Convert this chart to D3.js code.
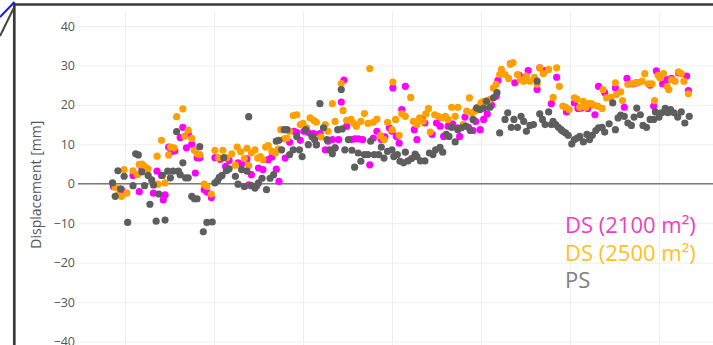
<!DOCTYPE html>
<html><head><meta charset="utf-8">
<script src="https://cdn.jsdelivr.net/npm/d3@7"></script>
<style>
html,body{margin:0;padding:0;background:#fff;overflow:hidden;}
svg{display:block;}
</style></head>
<body><svg id="c" width="713" height="345"></svg>
<script>
const yTicks = [-40,-30,-20,-10,0,10,20,30,40];
const gridYears = [2015,2016,2017,2018,2019,2020,2021];
const seriesNames = ["DS (2100 m²)","DS (2500 m²)","PS"];

const ds2100Points = [[2014.87,-0.7],[2014.96,-1.5],[2015.09,2.1],[2015.16,-2.0],[2015.19,3.6],[2015.32,-2.4],[2015.36,3.2],[2015.41,2.1],[2015.43,-4.1],[2015.45,-2.8],[2015.49,9.3],[2015.52,8.1],[2015.56,8.3],[2015.62,11.7],[2015.65,14.3],[2015.69,9.1],[2015.71,12.7],[2015.75,10.0],[2015.79,2.7],[2015.81,6.6],[2015.84,6.6],[2015.89,-1.5],[2015.92,-2.1],[2015.97,-3.5],[2016.01,6.6],[2016.07,6.2],[2016.13,4.4],[2016.17,5.9],[2016.27,5.3],[2016.31,5.0],[2016.37,6.3],[2016.39,-0.3],[2016.42,2.3],[2016.48,-0.5],[2016.50,4.0],[2016.55,3.6],[2016.61,6.1],[2016.65,6.8],[2016.70,3.7],[2016.73,0.6],[2016.80,6.5],[2016.85,10.5],[2016.90,13.3],[2016.93,13.0],[2016.97,11.0],[2017.01,13.3],[2017.06,13.0],[2017.12,12.7],[2017.15,9.9],[2017.19,12.7],[2017.25,8.6],[2017.28,10.8],[2017.33,11.2],[2017.36,9.1],[2017.40,11.2],[2017.43,20.7],[2017.46,26.3],[2017.49,14.6],[2017.54,11.2],[2017.58,11.4],[2017.62,11.4],[2017.67,11.2],[2017.75,4.8],[2017.79,11.6],[2017.83,13.3],[2017.88,11.2],[2017.92,11.9],[2017.97,14.2],[2018.00,13.3],[2018.01,24.3],[2018.05,12.0],[2018.08,10.3],[2018.11,18.8],[2018.15,24.7],[2018.25,13.7],[2018.28,11.2],[2018.34,16.5],[2018.37,15.4],[2018.45,12.5],[2018.50,15.4],[2018.54,14.6],[2018.58,12.0],[2018.63,14.6],[2018.68,15.2],[2018.73,14.2],[2018.76,12.0],[2018.82,16.9],[2018.86,14.3],[2018.91,13.5],[2018.94,15.8],[2018.99,13.7],[2019.03,16.3],[2019.07,17.7],[2019.12,19.9],[2019.17,22.2],[2019.19,26.2],[2019.33,30.4],[2019.38,25.6],[2019.43,27.5],[2019.53,28.7],[2019.63,23.9],[2019.66,29.4],[2019.72,28.7],[2019.79,20.3],[2019.85,27.0],[2019.96,18.2],[2020.05,20.5],[2020.09,19.1],[2020.13,19.2],[2020.20,19.1],[2020.28,17.5],[2020.32,24.7],[2020.39,23.1],[2020.51,24.3],[2020.61,19.4],[2020.64,26.7],[2020.71,25.3],[2020.75,25.6],[2020.90,25.0],[2020.94,19.7],[2020.97,28.6],[2021.04,25.3],[2021.09,26.4],[2021.14,26.7],[2021.22,28.1],[2021.31,27.3],[2021.33,23.6]];

const ds2500Points = [[2014.89,-0.9],[2014.92,-2.8],[2014.96,-3.2],[2014.99,3.6],[2015.02,-2.4],[2015.09,3.3],[2015.14,2.3],[2015.16,4.9],[2015.19,5.0],[2015.22,4.4],[2015.26,3.8],[2015.30,0.8],[2015.36,7.0],[2015.37,-0.1],[2015.41,11.0],[2015.45,0.2],[2015.49,7.3],[2015.51,9.3],[2015.55,9.1],[2015.58,17.0],[2015.65,19.0],[2015.67,12.1],[2015.71,13.6],[2015.75,11.5],[2015.78,8.5],[2015.81,7.6],[2015.84,7.4],[2015.89,-0.1],[2015.92,-0.7],[2015.97,-2.6],[2016.01,8.5],[2016.05,6.6],[2016.10,8.5],[2016.14,6.6],[2016.20,7.6],[2016.24,4.7],[2016.26,9.3],[2016.30,8.1],[2016.34,6.4],[2016.37,9.0],[2016.39,4.6],[2016.42,7.8],[2016.46,8.6],[2016.49,6.5],[2016.52,6.9],[2016.55,6.1],[2016.58,9.3],[2016.61,9.7],[2016.65,8.2],[2016.69,7.8],[2016.72,8.8],[2016.75,13.7],[2016.79,11.4],[2016.82,11.6],[2016.85,13.3],[2016.89,17.3],[2016.93,17.5],[2016.97,15.0],[2017.00,15.3],[2017.04,14.2],[2017.08,16.7],[2017.12,16.1],[2017.15,15.6],[2017.20,11.9],[2017.25,15.0],[2017.28,13.3],[2017.33,20.3],[2017.36,15.8],[2017.43,25.4],[2017.45,18.6],[2017.49,16.1],[2017.54,16.3],[2017.57,15.3],[2017.60,14.6],[2017.65,15.8],[2017.69,17.8],[2017.73,15.3],[2017.75,29.2],[2017.79,15.6],[2017.83,16.4],[2017.87,12.2],[2017.91,11.2],[2017.95,15.6],[2018.00,13.7],[2018.01,25.8],[2018.04,16.3],[2018.08,12.3],[2018.11,17.7],[2018.15,17.1],[2018.21,21.9],[2018.24,15.8],[2018.28,15.0],[2018.31,16.7],[2018.35,15.8],[2018.38,17.7],[2018.41,19.1],[2018.43,13.1],[2018.48,17.5],[2018.52,17.1],[2018.56,16.7],[2018.60,17.1],[2018.63,16.3],[2018.67,19.4],[2018.71,17.1],[2018.74,19.4],[2018.80,15.0],[2018.84,18.4],[2018.87,21.8],[2018.90,18.0],[2018.93,18.4],[2018.96,19.4],[2019.00,20.5],[2019.03,20.9],[2019.07,21.1],[2019.10,21.4],[2019.14,24.3],[2019.17,25.2],[2019.21,27.7],[2019.23,29.0],[2019.27,27.7],[2019.31,26.7],[2019.33,30.3],[2019.36,30.7],[2019.41,27.7],[2019.44,26.4],[2019.48,26.0],[2019.51,27.3],[2019.55,26.0],[2019.60,27.0],[2019.63,25.2],[2019.66,29.4],[2019.70,27.9],[2019.76,29.0],[2019.81,21.9],[2019.85,29.4],[2019.88,24.7],[2019.92,19.7],[2019.95,19.4],[2019.99,18.8],[2020.05,21.8],[2020.08,21.4],[2020.11,19.4],[2020.15,20.9],[2020.18,19.4],[2020.21,20.3],[2020.24,20.3],[2020.27,19.9],[2020.31,19.7],[2020.36,19.1],[2020.37,23.9],[2020.41,21.8],[2020.46,21.9],[2020.51,25.6],[2020.52,22.6],[2020.57,23.3],[2020.59,21.1],[2020.65,25.2],[2020.69,25.3],[2020.73,25.6],[2020.77,25.6],[2020.81,26.0],[2020.84,27.9],[2020.88,25.3],[2020.92,25.3],[2020.95,21.1],[2020.99,27.5],[2021.01,26.9],[2021.05,27.9],[2021.09,24.7],[2021.11,23.9],[2021.14,26.4],[2021.18,26.0],[2021.22,28.4],[2021.25,27.9],[2021.28,26.0],[2021.33,22.8]];

const psPoints = [[2014.86,0.2],[2014.89,-3.2],[2014.92,3.3],[2014.95,-1.3],[2014.99,1.9],[2015.03,-9.8],[2015.09,-0.5],[2015.12,7.6],[2015.15,7.3],[2015.19,3.0],[2015.22,-0.5],[2015.26,2.1],[2015.28,-5.2],[2015.30,1.0],[2015.32,-0.3],[2015.35,-9.5],[2015.38,-2.6],[2015.42,2.1],[2015.45,-9.2],[2015.48,3.2],[2015.51,1.5],[2015.54,3.2],[2015.58,13.2],[2015.60,3.2],[2015.62,2.3],[2015.65,5.3],[2015.68,1.5],[2015.71,1.5],[2015.75,-3.2],[2015.78,-3.8],[2015.81,-3.8],[2015.84,9.4],[2015.88,-12.2],[2015.92,-9.8],[2015.98,-9.7],[2016.01,0.2],[2016.04,0.8],[2016.06,1.6],[2016.09,2.1],[2016.11,6.6],[2016.14,3.3],[2016.17,3.8],[2016.24,1.9],[2016.27,-0.1],[2016.31,3.6],[2016.34,-0.7],[2016.37,3.2],[2016.39,17.0],[2016.42,-0.5],[2016.46,-1.1],[2016.50,0.2],[2016.54,1.4],[2016.59,-1.5],[2016.63,1.4],[2016.67,2.3],[2016.70,10.8],[2016.73,11.0],[2016.76,8.6],[2016.79,13.7],[2016.82,13.7],[2016.85,7.4],[2016.89,8.6],[2016.93,12.0],[2016.96,8.6],[2016.99,6.9],[2017.03,13.7],[2017.06,9.9],[2017.10,12.0],[2017.13,11.2],[2017.15,9.9],[2017.19,20.3],[2017.23,14.2],[2017.27,11.2],[2017.30,8.6],[2017.33,7.6],[2017.36,9.1],[2017.39,13.7],[2017.43,23.9],[2017.44,13.9],[2017.47,8.6],[2017.51,11.2],[2017.55,8.5],[2017.58,4.2],[2017.62,7.8],[2017.65,5.7],[2017.69,7.4],[2017.73,7.4],[2017.76,10.8],[2017.80,7.4],[2017.85,7.4],[2017.88,9.3],[2017.91,6.5],[2017.95,8.2],[2018.00,8.6],[2018.02,6.9],[2018.06,7.4],[2018.09,5.7],[2018.13,5.3],[2018.15,8.0],[2018.18,5.8],[2018.22,6.4],[2018.26,7.5],[2018.28,6.9],[2018.32,5.8],[2018.37,5.8],[2018.42,7.8],[2018.46,7.4],[2018.49,8.6],[2018.54,9.2],[2018.57,8.0],[2018.61,12.5],[2018.64,12.0],[2018.67,14.3],[2018.71,10.6],[2018.74,13.7],[2018.78,14.2],[2018.83,14.6],[2018.88,13.5],[2018.91,16.3],[2018.95,19.2],[2018.99,18.8],[2019.03,19.2],[2019.06,20.9],[2019.10,19.4],[2019.14,21.8],[2019.18,23.1],[2019.21,12.9],[2019.27,16.3],[2019.30,18.0],[2019.34,14.3],[2019.37,16.3],[2019.41,14.3],[2019.45,17.1],[2019.48,15.8],[2019.51,13.3],[2019.55,14.8],[2019.59,15.0],[2019.63,26.0],[2019.66,17.7],[2019.69,16.3],[2019.72,15.0],[2019.76,18.2],[2019.79,15.0],[2019.81,15.8],[2019.84,15.0],[2019.87,14.3],[2019.90,13.7],[2019.92,13.3],[2019.95,12.9],[2019.98,12.3],[2020.02,10.1],[2020.05,11.2],[2020.08,11.6],[2020.11,12.0],[2020.15,10.6],[2020.19,12.5],[2020.22,11.2],[2020.25,12.3],[2020.29,13.5],[2020.32,14.2],[2020.36,14.3],[2020.39,13.1],[2020.44,15.2],[2020.48,20.5],[2020.51,13.7],[2020.54,16.7],[2020.57,17.4],[2020.61,17.1],[2020.65,15.4],[2020.69,14.8],[2020.72,16.9],[2020.75,19.2],[2020.79,17.5],[2020.82,14.8],[2020.86,14.3],[2020.90,16.3],[2020.94,16.3],[2020.96,18.2],[2021.00,16.9],[2021.03,18.0],[2021.07,19.1],[2021.10,18.0],[2021.13,18.8],[2021.17,18.0],[2021.21,16.9],[2021.25,18.2],[2021.29,15.4],[2021.34,17.1]];

const W = 713, H = 345;
const plot = {left: 78, top: 12, right: 713, bottom: 345};
const svg = d3.select("#c");
const x = d3.scaleLinear().domain([2015, 2021]).range([125, 659]);
const y = d3.scaleLinear().domain([-40, 40]).range([341.5, 26]);
const font = "'Open Sans', 'Noto Sans', sans-serif";

svg.append("rect").attr("width", W).attr("height", H).attr("fill", "#fff");

// horizontal grid
const gy = svg.append("g").attr("transform", `translate(${plot.left},0)`)
  .call(d3.axisLeft(y).tickValues(yTicks).tickSize(-(plot.right - plot.left)).tickFormat(""));
gy.select(".domain").remove();
gy.selectAll("line").attr("stroke", "#eeeeee").attr("stroke-width", 1);

// vertical grid
const gx = svg.append("g").attr("transform", `translate(0,${plot.top})`)
  .call(d3.axisBottom(x).tickValues(gridYears).tickSize(plot.bottom - plot.top).tickFormat(""));
gx.select(".domain").remove();
gx.selectAll("line").attr("stroke", "#eeeeee").attr("stroke-width", 1);

// zero line
svg.append("line").attr("x1", plot.left).attr("x2", plot.right)
  .attr("y1", y(0)).attr("y2", y(0)).attr("stroke", "#7a7a7a").attr("stroke-width", 1.6);

// y tick labels
const yl = svg.append("g").attr("transform", `translate(${plot.left - 3},0)`)
  .call(d3.axisLeft(y).tickValues(yTicks).tickSize(0).tickPadding(0));
yl.select(".domain").remove();
yl.selectAll("text").attr("font-family", font).attr("font-size", 12.5).attr("fill", "#555");

// y title
svg.append("text").attr("transform", `translate(35,${(y(40) + y(-40)) / 2 + 1}) rotate(-90)`)
  .attr("text-anchor", "middle").attr("dominant-baseline", "central")
  .attr("font-family", font).attr("font-size", 14).attr("fill", "#555")
  .text("Displacement [mm]");

// points
svg.append("clipPath").attr("id", "clip").append("rect")
  .attr("x", plot.left).attr("y", plot.top)
  .attr("width", plot.right - plot.left).attr("height", plot.bottom - plot.top);
const pts = svg.append("g").attr("clip-path", "url(#clip)");
const series = [
  {data: ds2100Points, color: "#ff00ff"},
  {data: ds2500Points, color: "#ffa000"},
  {data: psPoints, color: "#5e5e5e"}
];
series.forEach(s => {
  pts.append("g").selectAll("circle").data(s.data).join("circle")
    .attr("cx", d => x(d[0])).attr("cy", d => y(d[1])).attr("r", 3.6)
    .attr("fill", s.color);
});

// legend annotations
const legendColors = ["#ee3fc0", "#ffc11c", "#808080"];
seriesNames.forEach((name, i) => {
  svg.append("text").attr("x", 565).attr("y", 233 + i * 27.6)
    .attr("font-family", font).attr("font-size", 22).attr("fill", legendColors[i])
    .text(name);
});

// frame (screenshot border)
svg.append("line").attr("x1", 13).attr("x2", W).attr("y1", 4.5).attr("y2", 4.5)
  .attr("stroke", "#3a3a3a").attr("stroke-width", 2.6);
svg.append("line").attr("x1", 14.3).attr("x2", 14.3).attr("y1", 3).attr("y2", H)
  .attr("stroke", "#3a3a3a").attr("stroke-width", 2.7);
svg.append("line").attr("x1", 13.5).attr("y1", 8.5).attr("x2", 0).attr("y2", 36)
  .attr("stroke", "#444").attr("stroke-width", 2);
svg.append("line").attr("x1", 14.5).attr("y1", 2).attr("x2", 0).attr("y2", 17)
  .attr("stroke", "#1a1ae6").attr("stroke-width", 2);
</script>
</body></html>
